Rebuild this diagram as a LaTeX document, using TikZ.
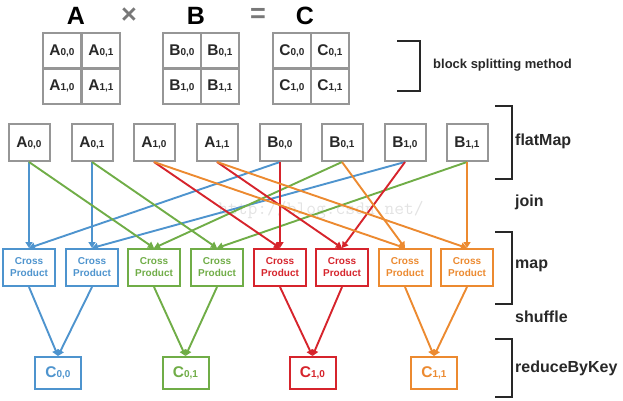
\documentclass[tikz,border=0pt]{standalone}
\usepackage{fontspec}
\setmainfont{Liberation Sans}
\usetikzlibrary{arrows.meta}
\definecolor{cblue}{RGB}{78,148,206}
\definecolor{cgreen}{RGB}{112,173,71}
\definecolor{cred}{RGB}{214,36,44}
\definecolor{corange}{RGB}{236,138,48}
\definecolor{boxgray}{RGB}{150,150,150}
\definecolor{labgray}{RGB}{40,40,40}
\definecolor{opgray}{RGB}{120,120,120}
\newcommand\mlbl[2]{{\fontsize{15.5}{16}\selectfont #1}{\fontsize{10}{10}\selectfont #2}}
\begin{document}
\begin{tikzpicture}[x=1pt,y=-1pt,
  cell/.style={draw=boxgray, line width=2pt, minimum width=38.5pt, minimum height=35.5pt, inner sep=0pt, font=\bfseries, text=labgray},
  flat/.style={draw=boxgray, line width=2pt, fill=white, minimum width=41pt, minimum height=37pt, inner sep=0pt, font=\bfseries, text=labgray},
  cp/.style={draw=#1, text=#1, line width=2pt, fill=white, minimum width=52pt, minimum height=37pt, inner sep=0pt, align=center, font=\bfseries\fontsize{10}{12}\selectfont},
  res/.style={draw=#1, text=#1, line width=2pt, fill=white, minimum width=46pt, minimum height=32pt, inner sep=0pt, font=\bfseries},
  link/.style={draw=#1, line width=1.9pt, -{Triangle[length=6pt,width=7pt]}},
  lab/.style={anchor=west, text=labgray, inner sep=0pt, font=\bfseries\fontsize{16}{18}\selectfont},
  big/.style={inner sep=0pt, font=\bfseries\fontsize{25}{25}\selectfont},
  opsym/.style={inner sep=0pt, text=opgray, font=\bfseries\fontsize{27}{27}\selectfont},
  brk/.style={draw=labgray, line width=1.2pt}
]
\useasboundingbox (0,0) rectangle (623,401);

% watermark
\node[text=gray!22, font=\ttfamily\fontsize{19}{19}\selectfont] (wm) at (321,210) {http://blog.csdn.net/};

% title row
\node[big] (tA) at (76,16) {A};
\node[opsym] (tx) at (129,16) {×};
\node[big] (tB) at (196,16) {B};
\node[opsym] (teq) at (258,15) {=};
\node[big] (tC) at (305,16) {C};

% grids
\node[cell] (ga00) at (62,51) {\mlbl{A}{0,0}};
\node[cell] (ga01) at (101,51) {\mlbl{A}{0,1}};
\node[cell] (ga10) at (62,86) {\mlbl{A}{1,0}};
\node[cell] (ga11) at (101,86) {\mlbl{A}{1,1}};
\node[cell] (gb00) at (182,51) {\mlbl{B}{0,0}};
\node[cell] (gb01) at (220,51) {\mlbl{B}{0,1}};
\node[cell] (gb10) at (182,86) {\mlbl{B}{1,0}};
\node[cell] (gb11) at (220,86) {\mlbl{B}{1,1}};
\node[cell] (gc00) at (292,51) {\mlbl{C}{0,0}};
\node[cell] (gc01) at (330,51) {\mlbl{C}{0,1}};
\node[cell] (gc10) at (292,86) {\mlbl{C}{1,0}};
\node[cell] (gc11) at (330,86) {\mlbl{C}{1,1}};

% brackets
\draw[brk] (397,41) -- (420,41) -- (420,91) -- (397,91);
\node[lab, font=\bfseries\fontsize{13}{15}\selectfont] (lbs) at (433,65) {block splitting method};
\draw[brk] (495,106) -- (512,106) -- (512,179) -- (495,179);
\node[lab] (lfm) at (515,141) {flatMap};
\node[lab] (ljoin) at (515,202) {join};
\draw[brk] (495,232) -- (512,232) -- (512,304) -- (495,304);
\node[lab] (lmap) at (515,266) {map};
\node[lab] (lsh) at (515,317) {shuffle};
\draw[brk] (495,339) -- (512,339) -- (512,397) -- (495,397);
\node[lab] (lrbk) at (515,368) {reduceByKey};

% flatMap boxes
\node[flat] (a00) at (29,142.5) {\mlbl{A}{0,0}};
\node[flat] (a01) at (92,142.5) {\mlbl{A}{0,1}};
\node[flat] (a10) at (154,142.5) {\mlbl{A}{1,0}};
\node[flat] (a11) at (217,142.5) {\mlbl{A}{1,1}};
\node[flat] (b00) at (280,142.5) {\mlbl{B}{0,0}};
\node[flat] (b01) at (342,142.5) {\mlbl{B}{0,1}};
\node[flat] (b10) at (405,142.5) {\mlbl{B}{1,0}};
\node[flat] (b11) at (467,142.5) {\mlbl{B}{1,1}};

% cross product boxes
\node[cp=cblue] (cp1) at (29,267.5) {Cross\\Product};
\node[cp=cblue] (cp2) at (92,267.5) {Cross\\Product};
\node[cp=cgreen] (cp3) at (154,267.5) {Cross\\Product};
\node[cp=cgreen] (cp4) at (217,267.5) {Cross\\Product};
\node[cp=cred] (cp5) at (280,267.5) {Cross\\Product};
\node[cp=cred] (cp6) at (342,267.5) {Cross\\Product};
\node[cp=corange] (cp7) at (405,267.5) {Cross\\Product};
\node[cp=corange] (cp8) at (467,267.5) {Cross\\Product};

% results
\node[res=cblue] (c00) at (58,373) {\mlbl{C}{0,0}};
\node[res=cgreen] (c01) at (185.5,373) {\mlbl{C}{0,1}};
\node[res=cred] (c10) at (312.5,373) {\mlbl{C}{1,0}};
\node[res=corange] (c11) at (434,373) {\mlbl{C}{1,1}};

% join connectors
\draw[link=cblue] (a00.south) -- (cp1.north);
\draw[link=cblue] (b00.south) -- (cp1.north);
\draw[link=cblue] (a01.south) -- (cp2.north);
\draw[link=cblue] (b10.south) -- (cp2.north);
\draw[link=cgreen] (a00.south) -- (cp3.north);
\draw[link=cgreen] (b01.south) -- (cp3.north);
\draw[link=cgreen] (a01.south) -- (cp4.north);
\draw[link=cgreen] (b11.south) -- (cp4.north);
\draw[link=cred] (a10.south) -- (cp5.north);
\draw[link=cred] (b00.south) -- (cp5.north);
\draw[link=cred] (a11.south) -- (cp6.north);
\draw[link=cred] (b10.south) -- (cp6.north);
\draw[link=corange] (a10.south) -- (cp7.north);
\draw[link=corange] (b01.south) -- (cp7.north);
\draw[link=corange] (a11.south) -- (cp8.north);
\draw[link=corange] (b11.south) -- (cp8.north);

% shuffle connectors
\draw[link=cblue] (cp1.south) -- (c00.north);
\draw[link=cblue] (cp2.south) -- (c00.north);
\draw[link=cgreen] (cp3.south) -- (c01.north);
\draw[link=cgreen] (cp4.south) -- (c01.north);
\draw[link=cred] (cp5.south) -- (c10.north);
\draw[link=cred] (cp6.south) -- (c10.north);
\draw[link=corange] (cp7.south) -- (c11.north);
\draw[link=corange] (cp8.south) -- (c11.north);
\end{tikzpicture}
\end{document}
